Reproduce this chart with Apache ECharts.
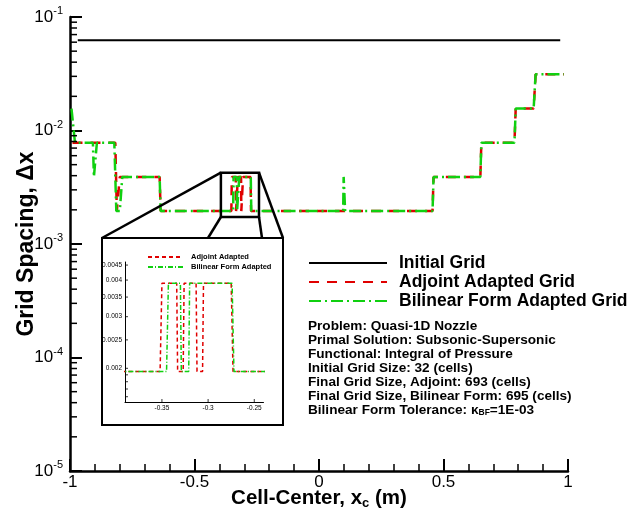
<!DOCTYPE html>
<html>
<head>
<meta charset="utf-8">
<script src="https://cdn.jsdelivr.net/npm/echarts@6/dist/echarts.min.js"></script>
<style>html,body{margin:0;padding:0;background:#fff}#main{width:638px;height:514px}</style>
</head>
<body>
<div id="main"></div>
<script>
// 网格间距：初始 32 单元 (dx=0.0625)，每级细化减半
const initialGrid = [[-0.96875, 0.0625], [0.96875, 0.0625]];

const adjointGrid = [
  [-0.99, 0.0078], [-0.818, 0.0078], [-0.812, 0.00195], [-0.806, 0.00195], [-0.80, 0.0039],
  [-0.64, 0.0039], [-0.636, 0.00195], [-0.352, 0.00195], [-0.350, 0.0039], [-0.334, 0.0039],
  [-0.333, 0.00195], [-0.327, 0.00195], [-0.326, 0.0039], [-0.313, 0.0039], [-0.312, 0.00195],
  [-0.306, 0.00195], [-0.305, 0.0039], [-0.275, 0.0039], [-0.273, 0.00195], [0.456, 0.00195],
  [0.46, 0.0039], [0.648, 0.0039], [0.652, 0.0078], [0.785, 0.0078], [0.79, 0.0156],
  [0.862, 0.0156], [0.87, 0.0313], [0.984, 0.0313]
];

const bilinearGrid = [
  [-0.994, 0.0156], [-0.98, 0.0078], [-0.908, 0.0078], [-0.904, 0.0039], [-0.896, 0.0039],
  [-0.892, 0.0078], [-0.822, 0.0078], [-0.814, 0.00195], [-0.80, 0.00195], [-0.79, 0.0039],
  [-0.64, 0.0039], [-0.636, 0.00195], [-0.345, 0.00195], [-0.343, 0.0039], [-0.330, 0.0039],
  [-0.329, 0.00195], [-0.321, 0.00195], [-0.320, 0.0039], [-0.274, 0.0039], [-0.272, 0.00195],
  [0.097, 0.00195], [0.099, 0.0039], [0.103, 0.0039], [0.105, 0.00195], [0.456, 0.00195],
  [0.46, 0.0039], [0.648, 0.0039], [0.652, 0.0078], [0.785, 0.0078], [0.79, 0.0156],
  [0.862, 0.0156], [0.87, 0.0313], [0.984, 0.0313]
];

// 刻度
const yMinorTicks = [];
[1e-5, 1e-4, 1e-3, 1e-2].forEach((p) => { for (let m = 2; m <= 9; m++) yMinorTicks.push(m * p); });
const insetYLabels = [0.002, 0.0025, 0.003, 0.0035, 0.004, 0.0045];
const insetYTicks = [0.0016, 0.0017, 0.0018, 0.0019, 0.002, 0.0025, 0.003, 0.0035, 0.004, 0.0045];
const insetXLabels = [-0.35, -0.3, -0.25];

// 放大框（数据坐标）
const zoomBoxX = [-0.394, -0.241];
const zoomBoxY = [0.00173, 0.00425];

const notes = [
  'Problem: Quasi-1D Nozzle',
  'Primal Solution: Subsonic-Supersonic',
  'Functional: Integral of Pressure',
  'Initial Grid Size: 32 (cells)',
  'Final Grid Size, Adjoint: 693 (cells)',
  'Final Grid Size, Bilinear Form: 695 (cells)',
  'Bilinear Form Tolerance: \u03ba{sub|BF}=1E-03'
];

const FONT = '"Liberation Sans", Arial, Helvetica, sans-serif';
const RED = '#e00000';
const GREEN = '#10d010';
const INSET_X = [-0.39, -0.24];
const INSET_Y = [0.001535, 0.00461];

const chart = echarts.init(document.getElementById('main'));

chart.setOption({
  animation: false,
  backgroundColor: '#fff',
  textStyle: { fontFamily: FONT, color: '#000' },
  grid: [
    { left: 70, right: 70, top: 17, bottom: 43, outerBoundsMode: 'none', containLabel: false },
    { left: 125, top: 262, width: 138.5, height: 140, outerBoundsMode: 'none', containLabel: false }
  ],
  xAxis: [
    {
      gridIndex: 0, type: 'value', min: -1, max: 1, interval: 0.5,
      name: 'Cell-Center, x{sub|c} (m)', nameLocation: 'middle', nameGap: 16, nameMoveOverlap: false,
      nameTextStyle: {
        fontSize: 20.5, fontWeight: 'bold', color: '#000', fontFamily: FONT,
        rich: { sub: { fontSize: 13, fontWeight: 'bold', fontFamily: FONT, padding: [10, 0, 0, 0] } }
      },
      axisLine: { onZero: false, lineStyle: { color: '#000', width: 2.5 } },
      axisTick: { inside: true, length: 12, lineStyle: { color: '#000', width: 2 } },
      minorTick: { show: true, splitNumber: 5, length: 7, lineStyle: { color: '#000', width: 1.5 } },
      axisLabel: { fontSize: 17, color: '#000', margin: 3, fontFamily: FONT, formatter: (v) => String(v) },
      splitLine: { show: false }
    },
    {
      gridIndex: 1, type: 'value', min: INSET_X[0], max: INSET_X[1],
      axisLine: { onZero: false, lineStyle: { color: '#000', width: 1 } },
      axisTick: { show: false },
      axisLabel: { fontSize: 6.5, color: '#000', margin: 3, customValues: insetXLabels, fontFamily: FONT, formatter: (v) => String(v) },
      splitLine: { show: false }
    }
  ],
  yAxis: [
    {
      gridIndex: 0, type: 'log', logBase: 10, min: 1e-5, max: 1e-1, position: 'left',
      name: 'Grid Spacing, \u0394x', nameLocation: 'middle', nameGap: 32, nameMoveOverlap: false,
      nameTextStyle: { fontSize: 23, fontWeight: 'bold', color: '#000', fontFamily: FONT },
      axisLine: { onZero: false, lineStyle: { color: '#000', width: 2.5 } },
      axisTick: { inside: true, length: 12, lineStyle: { color: '#000', width: 2 } },
      axisLabel: {
        fontSize: 17, color: '#000', margin: 7, fontFamily: FONT,
        formatter: (v) => '10{sup|' + Math.round(Math.log10(v)) + '}',
        rich: { sup: { fontSize: 11, fontFamily: FONT, padding: [0, 0, 12, 0] } }
      },
      splitLine: { show: false }
    },
    {
      gridIndex: 1, type: 'log', logBase: 10, min: INSET_Y[0], max: INSET_Y[1], position: 'left',
      axisLine: { onZero: false, lineStyle: { color: '#000', width: 1 } },
      axisTick: { show: false },
      axisLabel: { fontSize: 6.5, color: '#000', margin: 3, customValues: insetYLabels, fontFamily: FONT, formatter: (v) => String(v) },
      splitLine: { show: false }
    }
  ],
  legend: [
    {
      data: ['Initial Grid', 'Adjoint Adapted Grid', 'Bilinear Form Adapted Grid'],
      left: 308, top: 254, padding: 0, orient: 'vertical', itemWidth: 78, itemHeight: 16, itemGap: 1,
      selectedMode: false, itemStyle: { opacity: 0 },
      textStyle: { fontSize: 17.5, fontWeight: 'bold', color: '#000', fontFamily: FONT, lineHeight: 16, padding: [0, 0, 0, 7] }
    },
    {
      data: ['Adjoint Adapted', 'Bilinear Form Adapted'],
      left: 147, top: 253, padding: 0, orient: 'vertical', itemWidth: 35, itemHeight: 8, itemGap: 2,
      selectedMode: false, itemStyle: { opacity: 0 },
      textStyle: { fontSize: 7.5, fontWeight: 'bold', color: '#000', fontFamily: FONT, lineHeight: 8, padding: [0, 0, 0, 3] }
    }
  ],
  series: [
    {
      name: 'Initial Grid', type: 'line', xAxisIndex: 0, yAxisIndex: 0, data: initialGrid,
      symbol: 'none', lineStyle: { color: '#000', width: 2 }, itemStyle: { color: '#000' }
    },
    {
      name: 'Adjoint Adapted Grid', type: 'line', xAxisIndex: 0, yAxisIndex: 0, data: adjointGrid,
      symbol: 'none', lineStyle: { color: RED, width: 2.5, type: [10, 8] }, itemStyle: { color: RED }
    },
    {
      name: 'Bilinear Form Adapted Grid', type: 'line', xAxisIndex: 0, yAxisIndex: 0, data: bilinearGrid,
      symbol: 'none', lineStyle: { color: GREEN, width: 2.5, type: [12, 4, 2, 4] }, itemStyle: { color: GREEN }
    },
    {
      name: 'Adjoint Adapted', type: 'line', xAxisIndex: 1, yAxisIndex: 1, data: adjointGrid,
      symbol: 'none', clip: true, lineStyle: { color: RED, width: 1.5, type: [4, 3] }, itemStyle: { color: RED }
    },
    {
      name: 'Bilinear Form Adapted', type: 'line', xAxisIndex: 1, yAxisIndex: 1, data: bilinearGrid,
      symbol: 'none', clip: true, lineStyle: { color: GREEN, width: 1.5, type: [5, 2, 1, 2] }, itemStyle: { color: GREEN }
    }
  ]
});

// 次刻度：按坐标轴换算成像素后画短线
const g = [];
yMinorTicks.forEach((v) => {
  const p = chart.convertToPixel({ gridIndex: 0 }, [-1, v]);
  g.push({ type: 'line', shape: { x1: p[0], y1: p[1], x2: p[0] + 7, y2: p[1] }, style: { stroke: '#000', lineWidth: 1.5 }, z: 10 });
});
insetYTicks.forEach((v) => {
  const p = chart.convertToPixel({ gridIndex: 1 }, [INSET_X[0], v]);
  g.push({ type: 'line', shape: { x1: p[0], y1: p[1], x2: p[0] + 3, y2: p[1] }, style: { stroke: '#000', lineWidth: 0.8 }, z: 10 });
});
insetXLabels.forEach((v) => {
  const p = chart.convertToPixel({ gridIndex: 1 }, [v, INSET_Y[0]]);
  g.push({ type: 'line', shape: { x1: p[0], y1: p[1], x2: p[0], y2: p[1] - 3 }, style: { stroke: '#000', lineWidth: 0.8 }, z: 10 });
});

// 放大框与连线
const p0 = chart.convertToPixel({ gridIndex: 0 }, [zoomBoxX[0], zoomBoxY[1]]);
const p1 = chart.convertToPixel({ gridIndex: 0 }, [zoomBoxX[1], zoomBoxY[0]]);
const inset = { x: 102, y: 238, w: 181, h: 187 };
const lineStyle = { stroke: '#000', lineWidth: 2.5 };

chart.setOption({
  graphic: g.concat([
    { type: 'rect', shape: { x: inset.x, y: inset.y, width: inset.w, height: inset.h }, style: { fill: 'none', stroke: '#000', lineWidth: 2 }, z: 1 },
    { type: 'rect', shape: { x: p0[0], y: p0[1], width: p1[0] - p0[0], height: p1[1] - p0[1] }, style: { fill: 'none', stroke: '#000', lineWidth: 2.5 }, z: 10 },
    { type: 'line', shape: { x1: p0[0], y1: p0[1], x2: inset.x, y2: inset.y }, style: lineStyle, z: 10 },
    { type: 'line', shape: { x1: p1[0], y1: p0[1], x2: inset.x + inset.w, y2: inset.y }, style: lineStyle, z: 10 },
    { type: 'line', shape: { x1: p0[0], y1: p1[1], x2: 208, y2: inset.y }, style: lineStyle, z: 10 },
    { type: 'line', shape: { x1: p1[0], y1: p1[1], x2: 262, y2: inset.y }, style: lineStyle, z: 10 },
    {
      type: 'text', left: 308, top: 319, z: 10,
      style: {
        text: notes.join('\n'), fill: '#000', fontSize: 13.6, fontWeight: 'bold', fontFamily: FONT, lineHeight: 14,
        rich: { sub: { fontSize: 8.5, fontWeight: 'bold', fontFamily: FONT, padding: [6, 0, 0, 0] } }
      }
    }
  ])
});
</script>
</body>
</html>
